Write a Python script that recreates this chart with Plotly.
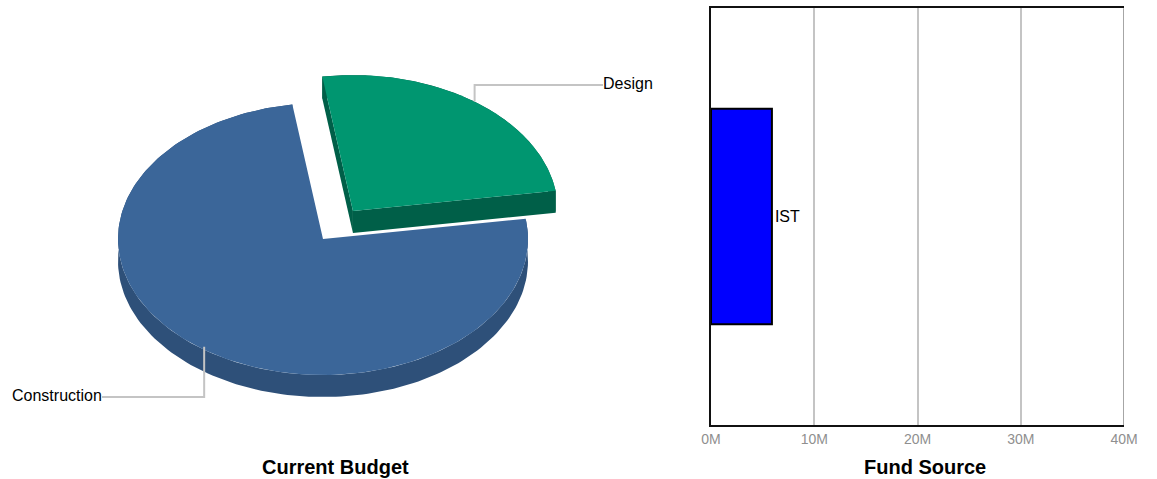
import numpy as np
import plotly.graph_objects as go

# ---- data ----
budget_categories = ["Construction", "Design"]
budget_values = [75, 25]
fund_categories = ["IST"]
fund_values = [5900000]
tick_values = [0, 10000000, 20000000, 30000000, 40000000]
tick_labels = ["0M", "10M", "20M", "30M", "40M"]

# ---- styling / projection of the tilted pie ----
W, H = 1157, 479
CX, CY, RX, RY = 323, 239, 205, 136   # centre and radii in page pixels
DEPTH = 22 / RY
EXPLODE = 0.25
FIRST_SLICE_END = -8.6                # degrees clockwise from north where Design starts
TOP = {"Construction": "#3B6699", "Design": "#009670"}
SIDE = {"Construction": "#2E5079", "Design": "#005F48"}

total = sum(budget_values)
design_span = 360 * budget_values[1] / total
d0, d1 = FIRST_SLICE_END, FIRST_SLICE_END + design_span
c0, c1 = d1, d0 + 360
mid_d = np.radians((d0 + d1) / 2)
mid_c = np.radians((c0 + c1) / 2)


def arc(a0, a1, n=180):
    t = np.radians(np.linspace(a0, a1, n))
    return np.sin(t), np.cos(t)


def slice_poly(a0, a1, ox=0.0, oy=0.0):
    x, y = arc(a0, a1)
    return np.r_[ox, x + ox, ox], np.r_[oy, y + oy, oy]


def poly(x, y, color):
    return go.Scatter(x=x, y=y, mode="lines", fill="toself", fillcolor=color,
                      line=dict(width=0, color=color), hoverinfo="skip",
                      showlegend=False, xaxis="x", yaxis="y")


def rim(a0, a1, ox=0.0, oy=0.0):
    x, y = arc(a0, a1)
    return np.r_[x, x[::-1]] + ox, np.r_[y, y[::-1] - DEPTH] + oy


def wall(a, ox, oy):
    x, y = np.sin(np.radians(a)), np.cos(np.radians(a))
    return (np.array([ox, x + ox, x + ox, ox, ox]),
            np.array([oy, y + oy, y + oy - DEPTH, oy - DEPTH, oy]))


fig = go.Figure()

# Construction slice
fig.add_trace(poly(*rim(c0, c1), SIDE["Construction"]))
fig.add_trace(poly(*slice_poly(c0, c1), TOP["Construction"]))

# Design slice, pulled out along its middle angle
ox, oy = EXPLODE * np.sin(mid_d) * 0.985, EXPLODE * np.cos(mid_d) * 1.02
fig.add_trace(poly(*rim(d0, d1, ox, oy), SIDE["Design"]))
fig.add_trace(poly(*wall(d0, ox, oy), SIDE["Design"]))
fig.add_trace(poly(*wall(d1, ox, oy), SIDE["Design"]))
fig.add_trace(poly(*slice_poly(d0, d1, ox, oy), TOP["Design"]))

# Leader lines
des_x, des_y = np.sin(mid_d) + ox, np.cos(mid_d) + oy
con_x, con_y = 0.985 * np.sin(mid_c), 0.985 * np.cos(mid_c)
des_elbow_y = (CY - 85) / RY
des_end_x = (603 - CX) / RX
con_elbow_y = (CY - 397) / RY
con_end_x = (102 - CX) / RX
leader = dict(color="#C4C4C4", width=2)
fig.add_trace(go.Scatter(x=[des_x, des_x, des_end_x], y=[des_y, des_elbow_y, des_elbow_y],
                         mode="lines", line=leader, hoverinfo="skip", showlegend=False,
                         xaxis="x", yaxis="y"))
fig.add_trace(go.Scatter(x=[con_x + 1 / RX, con_x + 1 / RX, con_end_x], y=[con_y, con_elbow_y, con_elbow_y],
                         mode="lines", line=leader, hoverinfo="skip", showlegend=False,
                         xaxis="x", yaxis="y"))

# Fund source bars
fig.add_trace(go.Bar(x=fund_values, y=fund_categories, orientation="h",
                     marker=dict(color="#0000FF", line=dict(color="#000000", width=2)),
                     text=fund_categories, textposition="outside", cliponaxis=False,
                     textfont=dict(family="Liberation Sans", size=16, color="#000000"),
                     hoverinfo="skip", showlegend=False, xaxis="x2", yaxis="y2"))

FONT = "Liberation Sans"
fig.update_layout(
    width=W, height=H, autosize=False,
    margin=dict(l=0, r=0, t=0, b=0, pad=0),
    paper_bgcolor="white", plot_bgcolor="rgba(0,0,0,0)",
    font=dict(family=FONT, color="#000000"),
    bargap=0.483,
    xaxis=dict(domain=[0, 660 / W], range=[(0 - CX) / RX, (660 - CX) / RX], visible=False,
               fixedrange=True, automargin=False),
    yaxis=dict(domain=[0, 1], range=[(CY - H) / RY, CY / RY], visible=False,
               fixedrange=True, automargin=False),
    xaxis2=dict(domain=[711 / W, 1124 / W], range=[0, 40000000], anchor="y2",
                tickvals=tick_values, ticktext=tick_labels, ticks="",
                tickfont=dict(family=FONT, size=14, color="#8F8F8F"),
                showgrid=True, gridcolor="#C4C4C4", gridwidth=2, zeroline=False,
                showline=True, linecolor="#111111", linewidth=2.2, mirror=True,
                fixedrange=True, automargin=False),
    yaxis2=dict(domain=[(H - 425) / H, (H - 8.2) / H], anchor="x2", showticklabels=False, ticks="",
                showgrid=False, zeroline=False, showline=True, linecolor="#111111", linewidth=2.2,
                fixedrange=True, automargin=False),
    shapes=[
        dict(type="line", xref="x2", yref="y2 domain", x0=tick_values[-1], x1=tick_values[-1],
             y0=0, y1=1, line=dict(color="#A6A6A6", width=2), layer="above"),
    ],
    annotations=[
        dict(text=budget_categories[0], xref="x", yref="y", x=con_end_x + 1 / RX, y=con_elbow_y + 2 / RY,
             xanchor="right", yanchor="middle", showarrow=False, borderpad=0,
             font=dict(family=FONT, size=16, color="#000000")),
        dict(text=budget_categories[1], xref="x", yref="y", x=des_end_x - 1 / RX, y=des_elbow_y + 2 / RY,
             xanchor="left", yanchor="middle", showarrow=False, borderpad=0,
             font=dict(family=FONT, size=16, color="#000000")),
        dict(text="<b>Current Budget</b>", xref="paper", yref="paper", x=335 / W, y=(H - 467) / H,
             xanchor="center", yanchor="middle", showarrow=False,
             font=dict(family=FONT, size=20, color="#000000")),
        dict(text="<b>Fund Source</b>", xref="paper", yref="paper", x=924.5 / W, y=(H - 467) / H,
             xanchor="center", yanchor="middle", showarrow=False,
             font=dict(family=FONT, size=20, color="#000000")),
    ],
)

fig.write_html("out.html", post_script="document.body.style.margin='0';",
               config={"displayModeBar": False})
